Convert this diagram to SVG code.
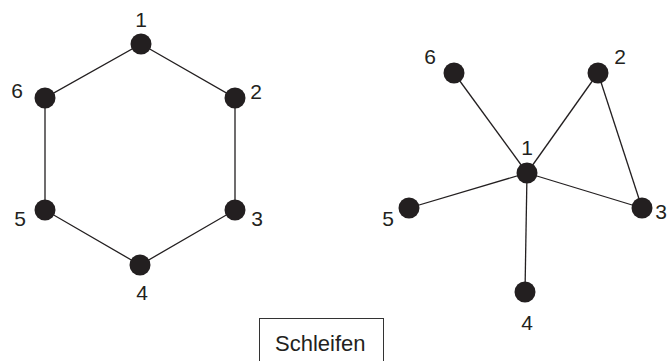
<svg xmlns="http://www.w3.org/2000/svg" width="668" height="361" viewBox="0 0 668 361">
<style>
.edge{stroke:#231f20;stroke-width:1.3;fill:none}
.node{fill:#231f20}
.lbl{font-family:"Liberation Sans",Arial,sans-serif;font-size:21px;fill:#231f20;text-anchor:middle}
.box{fill:#fff;stroke:#333;stroke-width:1}
.boxtxt{font-family:"Liberation Sans",Arial,sans-serif;font-size:22px;fill:#231f20}
</style>
<rect width="668" height="361" fill="#fff"/>
<g id="connectors">
<path class="edge" d="M141,44 L235,98 L235,210 L140,265 L45,210 L45,98 Z"/>
<line class="edge" x1="527" y1="173" x2="454" y2="73"/>
<line class="edge" x1="527" y1="173" x2="598" y2="73"/>
<line class="edge" x1="598" y1="73" x2="642" y2="208"/>
<line class="edge" x1="527" y1="173" x2="642" y2="208"/>
<line class="edge" x1="527" y1="173" x2="409" y2="208"/>
<line class="edge" x1="527" y1="173" x2="525" y2="292"/>
</g>
<g id="L1"><circle class="node" cx="141" cy="44" r="10.5"/><text class="lbl" x="141" y="27">1</text></g>
<g id="L2"><circle class="node" cx="235" cy="98" r="10.5"/><text class="lbl" x="256" y="99">2</text></g>
<g id="L3"><circle class="node" cx="235" cy="210" r="10.5"/><text class="lbl" x="257" y="226">3</text></g>
<g id="L4"><circle class="node" cx="140" cy="265" r="10.5"/><text class="lbl" x="142" y="300">4</text></g>
<g id="L5"><circle class="node" cx="45" cy="210" r="10.5"/><text class="lbl" x="20" y="226">5</text></g>
<g id="L6"><circle class="node" cx="45" cy="98" r="10.5"/><text class="lbl" x="17" y="98">6</text></g>
<g id="R1"><circle class="node" cx="527" cy="173" r="10.5"/><text class="lbl" x="527" y="155">1</text></g>
<g id="R2"><circle class="node" cx="598" cy="73" r="10.5"/><text class="lbl" x="620" y="64">2</text></g>
<g id="R3"><circle class="node" cx="642" cy="208" r="10.5"/><text class="lbl" x="661" y="219">3</text></g>
<g id="R4"><circle class="node" cx="525" cy="292" r="10.5"/><text class="lbl" x="527" y="330">4</text></g>
<g id="R5"><circle class="node" cx="409" cy="208" r="10.5"/><text class="lbl" x="388" y="226">5</text></g>
<g id="R6"><circle class="node" cx="454" cy="73" r="10.5"/><text class="lbl" x="430" y="64">6</text></g>
<g id="caption"><rect class="box" x="259.5" y="318.5" width="124" height="50"/><text class="boxtxt" x="275" y="351">Schleifen</text></g>
</svg>
